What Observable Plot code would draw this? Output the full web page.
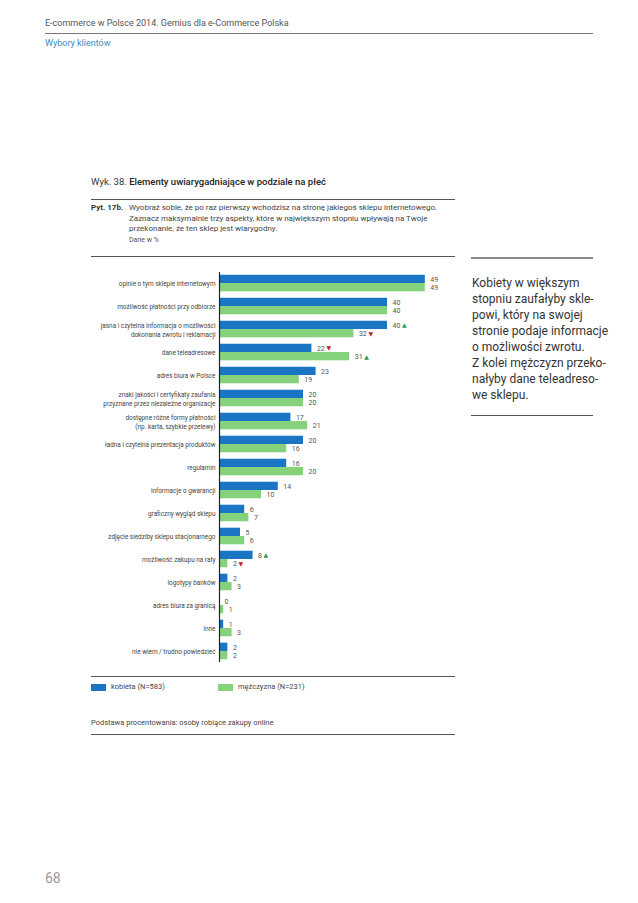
<!DOCTYPE html>
<html>
<head>
<meta charset="utf-8">
<script src="https://cdn.jsdelivr.net/npm/d3@7"></script>
<script src="https://cdn.jsdelivr.net/npm/@observablehq/plot@0.6"></script>
<style>
  html, body { margin: 0; padding: 0; background: #fff; }
  body { width: 638px; height: 903px; position: relative; overflow: hidden; font-family: Roboto, "Open Sans", sans-serif; color: #333; }
  .abs { position: absolute; white-space: nowrap; }
  .hr { position: absolute; height: 0; border-top: 1px solid #555; }
  #chart { position: absolute; left: 0px; top: 262px; line-height: 0; }
  .sw { position: absolute; width: 15px; height: 7px; }
</style>
</head>
<body>
<div class="abs" style="left:45px; top:18px; font-size:9px; color:#555;">E-commerce w Polsce 2014. Gemius dla e-Commerce Polska</div>
<div class="hr" style="left:45px; top:33px; width:548px; border-color:#777;"></div>
<div class="abs" style="left:45px; top:38px; font-size:9px; color:#3d8cc6;">Wybory klientów</div>

<div class="abs" style="left:91px; top:176px; font-size:9.5px; color:#333;">Wyk. 38. <b style="font-weight:500;color:#222;">Elementy uwiarygadniające w podziale na płeć</b></div>
<div class="hr" style="left:91px; top:199px; width:364px;"></div>
<div class="abs" style="left:91px; top:203px; font-size:8px; font-weight:700; color:#333;">Pyt. 17b.</div>
<div class="abs" style="left:129px; top:203px; font-size:8px; line-height:10.5px; color:#444;">Wyobraź sobie, że po raz pierwszy wchodzisz na stronę jakiegoś sklepu internetowego.<br>Zaznacz maksymalnie trzy aspekty, które w największym stopniu wpływają na Twoje<br>przekonanie, że ten sklep jest wiarygodny.</div>
<div class="abs" style="left:129px; top:236px; font-size:7px; color:#555;">Dane w %</div>
<div class="hr" style="left:91px; top:256px; width:364px;"></div>

<div id="chart"></div>

<div class="hr" style="left:91px; top:676px; width:364px;"></div>
<div class="sw" style="left:91px; top:684px; background:#1a75c4;"></div>
<div class="abs" style="left:111px; top:682px; font-size:7.5px; color:#444;">kobieta (N=583)</div>
<div class="sw" style="left:218px; top:684px; background:#85d17c;"></div>
<div class="abs" style="left:238px; top:682px; font-size:7.5px; color:#444;">mężczyzna (N=231)</div>
<div class="abs" style="left:91px; top:718px; font-size:7.5px; color:#444;">Podstawa procentowania: osoby robiące zakupy online</div>
<div class="hr" style="left:91px; top:734px; width:364px;"></div>

<div class="hr" style="left:471px; top:257px; width:122px; border-top:2px solid #888;"></div>
<div class="abs" style="left:472px; top:275px; font-size:12px; line-height:16px; color:#333;">Kobiety w większym<br>stopniu zaufałyby skle-<br>powi, który na swojej<br>stronie podaje informacje<br>o możliwości zwrotu.<br>Z kolei mężczyzn przeko-<br>nałyby dane teleadreso-<br>we sklepu.</div>
<div class="hr" style="left:471px; top:415px; width:122px; border-top:1px solid #555;"></div>

<div class="abs" style="left:45px; top:870px; font-size:14px; color:#999;">68</div>

<script>
const categories = [
  "opinie o tym sklepie internetowym",
  "możliwość płatności przy odbiorze",
  "jasna i czytelna informacja o możliwości\ndokonania zwrotu i reklamacji",
  "dane teleadresowe",
  "adres biura w Polsce",
  "znaki jakości i certyfikaty zaufania\nprzyznane przez niezależne organizacje",
  "dostępne różne formy płatności\n(np. karta, szybkie przelewy)",
  "ładna i czytelna prezentacja produktów",
  "regulamin",
  "informacje o gwarancji",
  "graficzny wygląd sklepu",
  "zdjęcie siedziby sklepu stacjonarnego",
  "możliwość zakupu na raty",
  "logotypy banków",
  "adres biura za granicą",
  "inne",
  "nie wiem / trudno powiedzieć"
];
const series = ["kobieta", "mężczyzna"];
const kobieta   = [49, 40, 40, 22, 23, 20, 17, 20, 16, 14, 6, 5, 8, 2, 0, 1, 2];
const mezczyzna = [49, 40, 32, 31, 19, 20, 21, 16, 20, 10, 7, 6, 2, 3, 1, 3, 2];
// significance markers: "up" / "down" / null
const sigKobieta   = [null, null, "up", "down", null, null, null, null, null, null, null, null, "up", null, null, null, null];
const sigMezczyzna = [null, null, "down", "up", null, null, null, null, null, null, null, null, "down", null, null, null, null];
const seriesColors = ["#1a75c4", "#85d17c"];

// layout (pixels)
const W = 456, H = 408, mL = 219, mR = 27, mT = 10, mB = 8;
const pInner = 0.28, pOuter = 0.12;
const n = categories.length;
const step = (H - mT - mB) / (n - pInner + 2 * pOuter);
const half = step * (1 - pInner) / 2;

const rowsK = categories.map((c, i) => ({cat: c, value: kobieta[i], sig: sigKobieta[i]}));
const rowsM = categories.map((c, i) => ({cat: c, value: mezczyzna[i], sig: sigMezczyzna[i]}));
const arrow = d => d.sig === "up" ? "▲" : "▼";
const arrowColor = d => d.sig === "up" ? "#2a9a4e" : "#c4202e";

function seriesMarks(rows, color, insetOpt, dy) {
  const sig = rows.filter(d => d.sig);
  const arrowOpts = {y: "cat", x: "value", text: arrow, fill: arrowColor, dy, textAnchor: "start", fontSize: 6, fontFamily: "DejaVu Sans"};
  return [
    Plot.barX(rows, {y: "cat", x: "value", fill: color, ...insetOpt}),
    Plot.text(rows, {y: "cat", x: "value", text: d => String(d.value), dx: 5, dy, textAnchor: "start", fontSize: 7, fill: "#555"}),
    Plot.text(sig.filter(d => d.value >= 10), {...arrowOpts, dx: 14.5}),
    Plot.text(sig.filter(d => d.value < 10), {...arrowOpts, dx: 10.5})
  ];
}

const chart = Plot.plot({
  width: W,
  height: H,
  marginLeft: mL,
  marginRight: mR,
  marginTop: mT,
  marginBottom: mB,
  style: {fontFamily: "Roboto, sans-serif", background: "transparent"},
  x: {domain: [0, 50], axis: null},
  y: {domain: categories, paddingInner: pInner, paddingOuter: pOuter, round: false, axis: null},
  marks: [
    seriesMarks(rowsK, seriesColors[0], {insetBottom: half}, -half / 2),
    seriesMarks(rowsM, seriesColors[1], {insetTop: half}, half / 2),
    Plot.ruleX([0], {stroke: "#222", strokeWidth: 1.2}),
    Plot.text(categories, {y: d => d, text: d => d, frameAnchor: "left", textAnchor: "end", dx: -4, lineHeight: 1.35, fontSize: 6.4, fill: "#444"})
  ]
});
document.getElementById("chart").appendChild(chart);
</script>
</body>
</html>
